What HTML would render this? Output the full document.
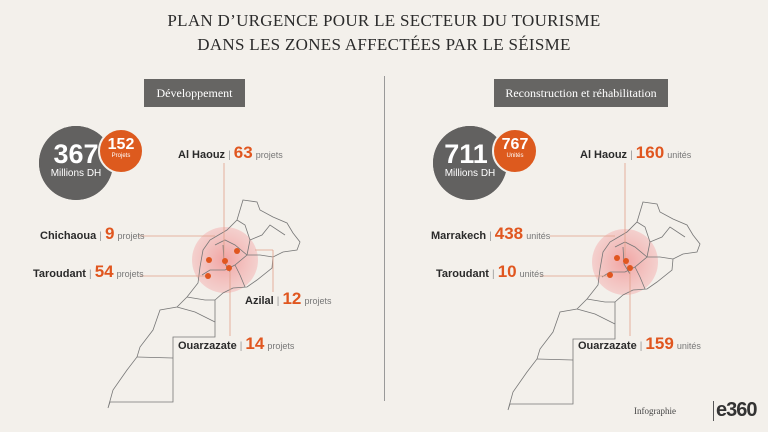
<!DOCTYPE html>
<html><head><meta charset="utf-8"><style>
html,body{margin:0;padding:0}
body{width:768px;height:432px;background:#f3f0eb;position:relative;overflow:hidden;font-family:"Liberation Sans",sans-serif}
.t{position:absolute;left:0;width:768px;text-align:center;font-family:"Liberation Serif",serif;color:#2b2b2b;font-size:17px;letter-spacing:0.3px}
.btn{position:absolute;top:79px;height:28px;background:#666563;color:#fff;font-family:"Liberation Serif",serif;font-size:12px;line-height:28px;text-align:center}
.lab{position:absolute;white-space:nowrap;font-size:11px;font-weight:bold;color:#2a2a2a}
.lab b{color:#e0561f;font-size:17px}
.lab i{font-style:normal;font-weight:normal;color:#777;font-size:9px}
.lab s{text-decoration:none;font-weight:normal;color:#999;font-size:10px}
.big{position:absolute;border-radius:50%;background:#626160;color:#fff;text-align:center;box-shadow:0 0 0 2px #626160 inset}
.or{position:absolute;border-radius:50%;background:#dd5a1e;color:#fff;text-align:center;border:2px solid #f3f0eb}
</style></head><body>
<div class="t" style="top:11px">PLAN D’URGENCE POUR LE SECTEUR DU TOURISME</div>
<div class="t" style="top:35px">DANS LES ZONES AFFECTÉES PAR LE SÉISME</div>
<div style="position:absolute;left:384px;top:76px;width:1px;height:325px;background:#999"></div>
<div class="btn" style="left:144px;width:101px">Développement</div>
<div class="btn" style="left:494px;width:174px">Reconstruction et réhabilitation</div>

<svg width="768" height="432" style="position:absolute;left:0;top:0">
<defs><radialGradient id="g"><stop offset="0" stop-color="#f08a8a" stop-opacity=".75"/><stop offset="1" stop-color="#f4a9a9" stop-opacity=".45"/></radialGradient>
<g id="map" fill="none" stroke="#777" stroke-width="0.8">
<path d="M243,200 L257,202 L260,210 L273,217 L287,223 L293,233 L300,242 L297,250 L283,252 L273,257 L272,268 L257,280 L247,287 L233,288 L223,293 L215,300 L215,337 L173,337 L173,402 L110,402 L108,408 L113,390 L127,370 L137,357 L140,347 L153,330 L160,310 L177,307 L187,297 L198,283 L200,267 L203,250 L210,240 L227,230 L237,220 Z"/>
<path d="M137,357 L173,358 M177,307 L195,312 L215,322 M187,297 L205,300 L215,300 M237,220 L245,225 L250,240 L262,235 L270,225 L285,235 M250,240 L247,255 L235,265 L225,270 L210,270 L202,275 M247,255 L260,255 L273,257 M235,265 L240,275 L245,287 M215,245 L225,240 L235,245 L247,255 M223,245 L224,262 L230,272"/>
</g></defs>
<circle cx="225" cy="260" r="33" fill="url(#g)"/>
<use href="#map"/>
<circle cx="625" cy="262" r="33" fill="url(#g)"/>
<use href="#map" transform="translate(400,2)"/>
<g stroke="#e0a08a" stroke-width="0.8">
<line x1="224" y1="163" x2="224" y2="262"/><line x1="138" y1="236" x2="215" y2="236"/><line x1="140" y1="276" x2="205" y2="276"/>
<line x1="273" y1="250" x2="273" y2="292"/><line x1="230" y1="268" x2="230" y2="336"/><line x1="255" y1="250" x2="273" y2="250"/>
<line x1="625" y1="163" x2="625" y2="262"/><line x1="550" y1="236" x2="615" y2="236"/><line x1="540" y1="276" x2="608" y2="276"/>
<line x1="630" y1="268" x2="630" y2="336"/>
</g>
<g fill="#e0561f">
<circle cx="209" cy="260" r="3"/><circle cx="225" cy="261" r="3"/><circle cx="237" cy="251" r="3"/><circle cx="229" cy="268" r="3"/><circle cx="208" cy="276" r="3"/>
<circle cx="617" cy="258" r="3"/><circle cx="626" cy="261" r="3"/><circle cx="630" cy="268" r="3"/><circle cx="610" cy="275" r="3"/>
</g>
</svg>

<div class="big" style="left:39px;top:126px;width:74px;height:74px"><div style="font-size:27px;font-weight:bold;margin-top:14px;line-height:28px">367</div><div style="font-size:10px">Millions DH</div></div>
<div class="or" style="left:98px;top:128px;width:42px;height:42px"><div style="font-size:16px;font-weight:bold;margin-top:7px;line-height:16px">152</div><div style="font-size:6px">Projets</div></div>
<div class="big" style="left:433px;top:126px;width:74px;height:74px"><div style="font-size:27px;font-weight:bold;margin-top:14px;line-height:28px;padding-right:8px">711</div><div style="font-size:10px">Millions DH</div></div>
<div class="or" style="left:492px;top:128px;width:42px;height:42px"><div style="font-size:16px;font-weight:bold;margin-top:7px;line-height:16px">767</div><div style="font-size:6px">Unités</div></div>

<div class="lab" style="left:178px;top:143px">Al Haouz <s>|</s> <b>63</b> <i>projets</i></div>
<div class="lab" style="left:40px;top:224px">Chichaoua <s>|</s> <b>9</b> <i>projets</i></div>
<div class="lab" style="left:33px;top:262px">Taroudant <s>|</s> <b>54</b> <i>projets</i></div>
<div class="lab" style="left:245px;top:289px">Azilal <s>|</s> <b>12</b> <i>projets</i></div>
<div class="lab" style="left:178px;top:334px">Ouarzazate <s>|</s> <b>14</b> <i>projets</i></div>

<div class="lab" style="left:580px;top:143px">Al Haouz <s>|</s> <b>160</b> <i>unités</i></div>
<div class="lab" style="left:431px;top:224px">Marrakech <s>|</s> <b>438</b> <i>unités</i></div>
<div class="lab" style="left:436px;top:262px">Taroudant <s>|</s> <b>10</b> <i>unités</i></div>
<div class="lab" style="left:578px;top:334px">Ouarzazate <s>|</s> <b>159</b> <i>unités</i></div>

<div style="position:absolute;left:634px;top:406px;font-family:'Liberation Serif',serif;font-size:9px;color:#444">Infographie</div>
<div style="position:absolute;left:713px;top:401px;width:1px;height:20px;background:#555"></div>
<div style="position:absolute;left:716px;top:399px;font-size:20px;font-weight:bold;color:#333;letter-spacing:-1px">e360</div>
</body></html>
